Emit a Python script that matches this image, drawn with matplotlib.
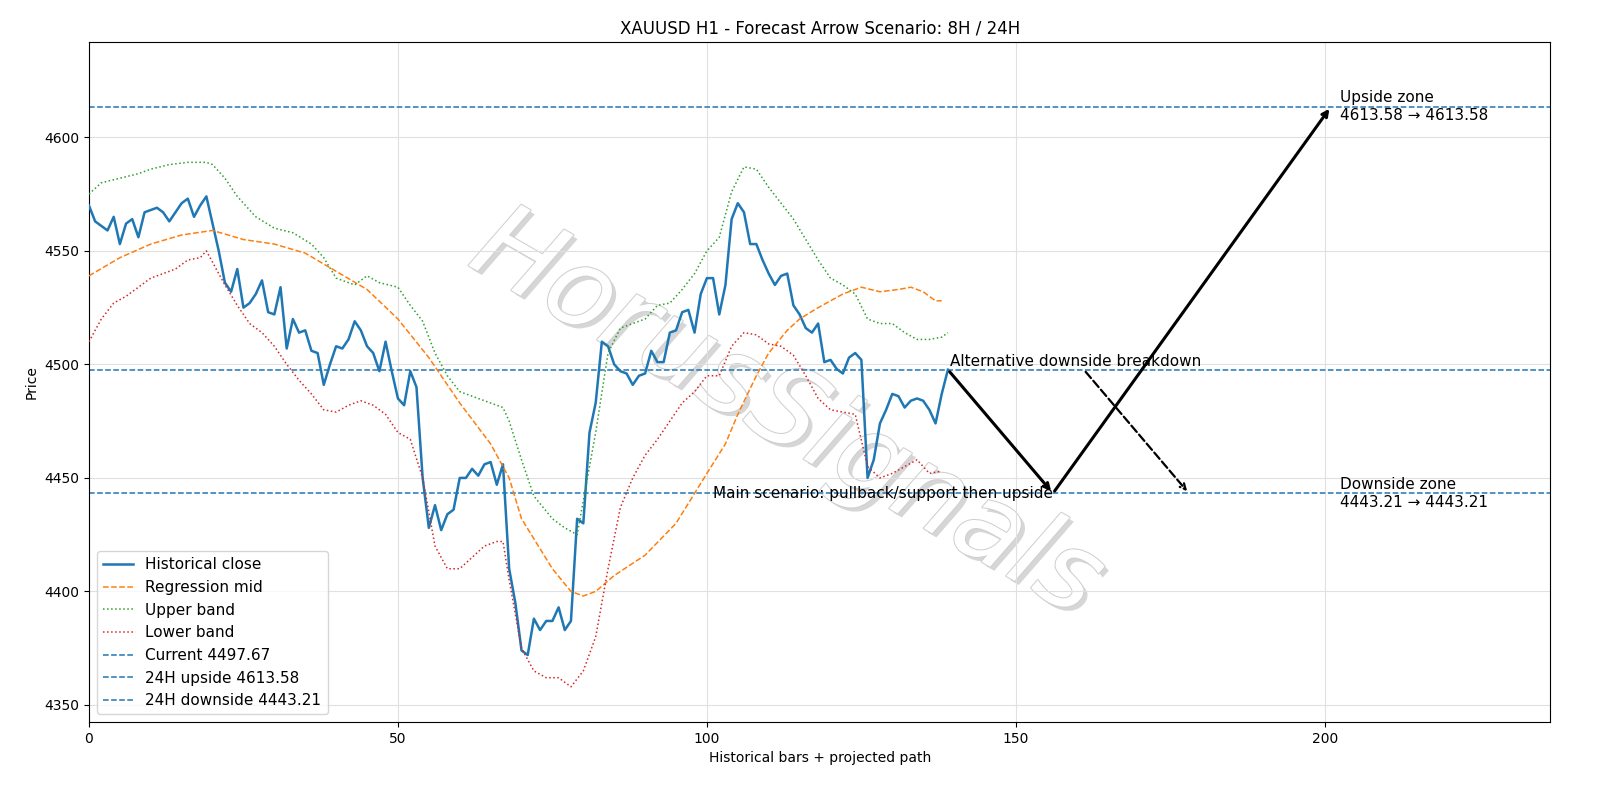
import matplotlib
matplotlib.use("Agg")
import matplotlib.pyplot as plt
import matplotlib.patheffects as pe

close = [4570, 4563, 4561, 4559, 4565, 4553, 4562, 4564, 4556, 4567, 4568, 4569, 4567, 4563, 4567,
         4571, 4573, 4565, 4570, 4574, 4562, 4550, 4536, 4532, 4542, 4525, 4527, 4531, 4537, 4523,
         4522, 4534, 4507, 4520, 4514, 4515, 4506, 4505, 4491, 4500, 4508, 4507, 4511, 4519, 4515,
         4508, 4505, 4497, 4510, 4497, 4485, 4482, 4497, 4490, 4450, 4428, 4438, 4427, 4434, 4436,
         4450, 4450, 4454, 4451, 4456, 4457, 4447, 4456, 4410, 4395, 4374, 4372, 4388, 4383, 4387,
         4387, 4393, 4383, 4387, 4432, 4430, 4470, 4483, 4510, 4508, 4500, 4497, 4496, 4491, 4495,
         4496, 4506, 4501, 4501, 4514, 4515, 4523, 4524, 4514, 4531, 4538, 4538, 4522, 4535, 4564,
         4571, 4567, 4553, 4553, 4546, 4540, 4535, 4539, 4540, 4526, 4522, 4516, 4514, 4518, 4501,
         4502, 4498, 4496, 4503, 4505, 4502, 4450, 4458, 4474, 4480, 4487, 4486, 4481, 4484, 4485,
         4484, 4480, 4474, 4487, 4497.67]

mid_x = [0, 5, 10, 15, 20, 25, 30, 35, 40, 45, 50, 55, 60, 65, 68, 70, 75, 78, 80, 82, 85, 90, 95,
         100, 103, 105, 108, 110, 113, 115, 118, 120, 122, 125, 128, 131, 133, 135, 137, 138]
mid_y = [4539, 4547, 4553, 4557, 4559, 4555, 4553, 4549, 4541, 4533, 4520, 4503, 4483, 4465, 4450,
         4432, 4410, 4400, 4398, 4400, 4407, 4416, 4430, 4452, 4465, 4478, 4495, 4505, 4515, 4520,
         4525, 4528, 4531, 4534, 4532, 4533, 4534, 4532, 4528, 4528]

up_x = [0, 2, 5, 8, 10, 13, 16, 19, 20, 22, 24, 27, 30, 33, 36, 38, 40, 43, 45, 47, 50, 52, 54, 56,
        58, 60, 63, 65, 67, 68, 70, 72, 75, 77, 79, 80, 82, 84, 86, 88, 90, 92, 94, 96, 98, 100,
        102, 104, 106, 108, 110, 112, 114, 116, 118, 120, 122, 124, 126, 128, 130, 132, 134, 136, 138, 139]
up_y = [4575, 4580, 4582, 4584, 4586, 4588, 4589, 4589, 4588, 4582, 4574, 4565, 4560, 4558, 4553,
        4547, 4538, 4535, 4539, 4536, 4534, 4526, 4519, 4505, 4495, 4488, 4485, 4483, 4481, 4475,
        4458, 4442, 4432, 4428, 4425, 4440, 4470, 4505, 4516, 4518, 4520, 4526, 4527, 4533, 4540,
        4550, 4556, 4576, 4587, 4586, 4578, 4571, 4564, 4555, 4546, 4538, 4535, 4531, 4520, 4518,
        4518, 4514, 4511, 4511, 4512, 4514]

lo_x = [0, 2, 4, 6, 8, 10, 12, 14, 16, 18, 19, 20, 22, 24, 26, 28, 30, 32, 34, 36, 38, 40, 42, 44,
        46, 48, 50, 52, 54, 56, 58, 60, 62, 64, 66, 67, 68, 70, 72, 74, 76, 78, 80, 82, 84, 86, 88,
        90, 92, 94, 96, 98, 100, 102, 104, 106, 108, 110, 112, 114, 116, 118, 120, 122, 124, 126,
        128, 130, 132, 134, 136, 138]
lo_y = [4510, 4520, 4527, 4530, 4534, 4538, 4540, 4542, 4546, 4547, 4550, 4545, 4535, 4526, 4518,
        4514, 4508, 4500, 4493, 4487, 4480, 4479, 4482, 4484, 4482, 4478, 4470, 4467, 4450, 4420,
        4410, 4410, 4415, 4420, 4422, 4422, 4405, 4375, 4365, 4362, 4362, 4358, 4365, 4380, 4410,
        4437, 4450, 4460, 4467, 4475, 4483, 4488, 4495, 4495, 4508, 4514, 4513, 4509, 4508, 4504,
        4495, 4485, 4480, 4479, 4478, 4455, 4450, 4452, 4455, 4458, 4452, 4453]

current = 4497.67
upside = 4613.58
downside = 4443.21
path_x = [139, 156, 201]
path_y = [current, downside, upside]
alt_x = [161, 178]
alt_y = [current, downside]

fig = plt.figure(figsize=(16, 8), dpi=100)
ax = fig.add_axes([0.0556, 0.0975, 0.9134, 0.85])

ax.text(113, 4478, "HorusSignals", fontsize=78, fontstyle="italic", fontweight="light", rotation=-30,
        ha="center", va="center", color="white", zorder=1.5,
        path_effects=[pe.withSimplePatchShadow(offset=(3, -3), shadow_rgbFace="#bbbbbb", alpha=0.6),
                      pe.Stroke(linewidth=1.5, foreground="#d0d0d0"), pe.Normal()])

ax.plot(range(len(close)), close, color="#1f77b4", lw=1.8, label="Historical close", zorder=3)
ax.plot(mid_x, mid_y, "--", color="#ff7f0e", lw=1.1, label="Regression mid", zorder=3)
ax.plot(up_x, up_y, ":", color="#2ca02c", lw=1.1, label="Upper band", zorder=3)
ax.plot(lo_x, lo_y, ":", color="#d62728", lw=1.1, label="Lower band", zorder=3)
ax.axhline(current, ls="--", color="#1f77b4", lw=1.1, label=f"Current {current:.2f}")
ax.axhline(upside, ls="--", color="#1f77b4", lw=1.1, label=f"24H upside {upside:.2f}")
ax.axhline(downside, ls="--", color="#1f77b4", lw=1.1, label=f"24H downside {downside:.2f}")

for i in range(len(path_x) - 1):
    ax.annotate("", xy=(path_x[i + 1], path_y[i + 1]), xytext=(path_x[i], path_y[i]),
                arrowprops=dict(arrowstyle="->", color="black", lw=2.2))
ax.annotate("", xy=(alt_x[1], alt_y[1]), xytext=(alt_x[0], alt_y[0]),
            arrowprops=dict(arrowstyle="->", color="black", lw=1.6, ls="--"))

ax.text(139.3, current + 0.5, "Alternative downside breakdown", fontsize=11, va="bottom")
ax.text(156, downside, "Main scenario: pullback/support then upside", fontsize=11, ha="right", va="center")
ax.text(202.5, upside, f"Upside zone\n{upside:.2f} \u2192 {upside:.2f}", fontsize=11, va="center")
ax.text(202.5, downside, f"Downside zone\n{downside:.2f} \u2192 {downside:.2f}", fontsize=11, va="center")

ax.set_xlim(0, 236.5)
ax.set_ylim(4342.5, 4642)
ax.grid(True, color="#e0e0e0", lw=0.8)
ax.set_xlabel("Historical bars + projected path")
ax.set_ylabel("Price")
ax.set_title("XAUUSD H1 - Forecast Arrow Scenario: 8H / 24H", fontsize=12)
ax.legend(loc="lower left", fontsize=11)
fig.savefig("out.png", dpi=100)
